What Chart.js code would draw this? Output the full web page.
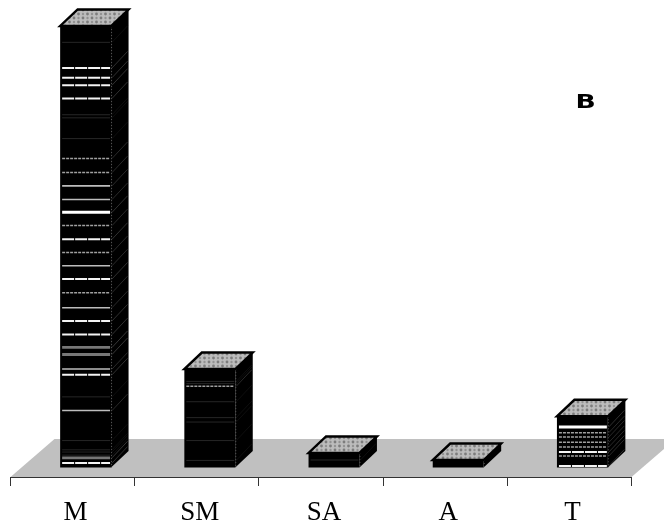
<!DOCTYPE html>
<html>
<head>
<meta charset="utf-8">
<style>html,body{margin:0;padding:0;background:#fff}canvas{display:block}</style>
<script src="https://cdn.jsdelivr.net/npm/chart.js@4"></script>
</head>
<body>
<canvas id="c" width="664" height="529"></canvas>
<script>
const categories = ['M', 'SM', 'SA', 'A', 'T'];
const values = [100, 22.3, 3.3, 1.7, 11.6];

// stripe levels inside each stacked column, by category and by shade
const mThick = [57.8];
const mWhite = [90.5, 88.3, 86.6, 83.6, 51.7, 42.7, 33.2, 30.1, 21.0, 1.0];
const mLight = [63.8, 60.7, 45.7, 36.2, 22.3, 12.9];
const mDotted = [70.0, 66.8, 54.8, 48.7, 39.6];
const mGray = [27.2, 25.6, 2.2];
const mFaint = [96.3, 79.9, 79.2, 74.5, 16.0, 6.1, 4.0, 3.5, 2.8];
const smDotted = [18.4];
const smFaint = [19.5, 19.0, 14.9, 11.3, 10.3, 6.1, 1.6];
const saFaint = [1.7];
const tThick = [9.2];
const tWhite = [3.5, 0.35];
const tDotted = [7.9, 6.9, 5.7, 4.65, 2.6];

const stripes = {
  M:  { thick: mThick, white: mWhite, light: mLight, dotted: mDotted, gray: mGray, faint: mFaint },
  SM: { dotted: smDotted, faint: smFaint },
  SA: { faint: saFaint },
  A:  {},
  T:  { thick: tThick, white: tWhite, dotted: tDotted }
};
const stripeStyle = {
  thick:  { color: '#fff',    width: 3,   dash: [], side: '#3c3c3c' },
  white:  { color: '#f4f4f4', width: 2,   dash: [12, 1], side: '#3c3c3c' },
  light:  { color: '#bdbdbd', width: 1.6, dash: [], side: '#333' },
  dotted: { color: '#a0a0a0', width: 1.5, dash: [3, 1], side: '#333' },
  gray:   { color: '#777',    width: 2.8, dash: [], side: '#444' },
  faint:  { color: '#262626', width: 1,   dash: [], side: '#111' }
};

const BAR_SHIFT = 13, DX = 17.5, DY = -16.5, FLOOR_DX = 44, FLOOR_DY = -38;

function stipple(ctx) {
  const p = document.createElement('canvas');
  p.width = 9; p.height = 8;
  const g = p.getContext('2d');
  g.fillStyle = '#bcbcbc';
  g.fillRect(0, 0, 9, 8);
  g.fillStyle = '#7c7c7c';
  [[0, 0], [4.5, 4]].forEach(([x, y]) => {
    g.beginPath(); g.arc(x + 2, y + 2, 1.4, 0, Math.PI * 2); g.fill();
  });
  g.fillStyle = '#929292';
  [[4.5, 0], [0, 4]].forEach(([x, y]) => {
    g.beginPath(); g.arc(x + 2, y + 2, 1.2, 0, Math.PI * 2); g.fill();
  });
  return ctx.createPattern(p, 'repeat');
}

function poly(ctx, pts) {
  ctx.beginPath();
  pts.forEach((q, i) => i ? ctx.lineTo(q[0], q[1]) : ctx.moveTo(q[0], q[1]));
  ctx.closePath();
}

const box3d = {
  id: 'box3d',
  beforeDraw(chart) {
    const { ctx, chartArea: a } = chart;
    ctx.save();
    ctx.fillStyle = '#c0c0c0';
    poly(ctx, [[a.left, a.bottom], [a.right, a.bottom],
               [a.right + FLOOR_DX, a.bottom + FLOOR_DY], [a.left + FLOOR_DX, a.bottom + FLOOR_DY]]);
    ctx.fill();
    ctx.restore();
  },
  beforeDatasetsDraw(chart) {
    chart.ctx.save();
    chart.ctx.translate(BAR_SHIFT, 0);
  },
  afterDatasetsDraw(chart) {
    const { ctx, scales } = chart;
    ctx.restore();
    const pattern = stipple(ctx);
    chart.getDatasetMeta(0).data.forEach((bar, i) => {
      const x1 = bar.x - bar.width / 2 + BAR_SHIFT;
      const x2 = bar.x + bar.width / 2 + BAR_SHIFT;
      const top = bar.y, base = bar.base;
      ctx.save();
      // side face
      ctx.fillStyle = '#000';
      poly(ctx, [[x2, top], [x2 + DX, top + DY], [x2 + DX, base + DY], [x2, base]]);
      ctx.fill();
      // front-right edge
      ctx.strokeStyle = '#555';
      ctx.lineWidth = 1;
      ctx.setLineDash([1, 2]);
      ctx.beginPath(); ctx.moveTo(x2 + 0.5, top); ctx.lineTo(x2 + 0.5, base); ctx.stroke();
      ctx.setLineDash([]);
      // stripes
      const set = stripes[categories[i]];
      Object.keys(set).forEach(kind => {
        const st = stripeStyle[kind];
        set[kind].forEach(v => {
          const y = scales.y.getPixelForValue(v);
          ctx.strokeStyle = st.color;
          ctx.lineWidth = st.width;
          ctx.setLineDash(st.dash);
          ctx.beginPath(); ctx.moveTo(x1 + 2, y); ctx.lineTo(x2 - 1, y); ctx.stroke();
          ctx.setLineDash([]);
          ctx.strokeStyle = st.side;
          ctx.lineWidth = 0.8;
          ctx.beginPath(); ctx.moveTo(x2 + 1, y); ctx.lineTo(x2 + DX - 1, y + DY); ctx.stroke();
        });
      });
      // top face
      poly(ctx, [[x1, top], [x2, top], [x2 + DX, top + DY], [x1 + DX, top + DY]]);
      ctx.fillStyle = pattern;
      ctx.fill();
      ctx.strokeStyle = '#000';
      ctx.lineWidth = 2.4;
      ctx.lineJoin = 'miter';
      ctx.stroke();
      ctx.restore();
    });
    // panel letter
    ctx.save();
    ctx.fillStyle = '#000';
    ctx.font = 'bold 19px "DejaVu Sans"';
    ctx.textAlign = 'left';
    ctx.textBaseline = 'alphabetic';
    ctx.translate(577, 108);
    ctx.scale(1.4, 1);
    ctx.fillText('B', -1, 0);
    ctx.restore();
  }
};

new Chart(document.getElementById('c'), {
  type: 'bar',
  data: {
    labels: categories,
    datasets: [{
      data: values,
      backgroundColor: '#000',
      borderWidth: 0,
      categoryPercentage: 1,
      barPercentage: 0.41,
      clip: false
    }]
  },
  options: {
    responsive: false,
    animation: false,
    layout: { padding: { top: 26, left: 10.5, right: 32.5, bottom: 0 } },
    plugins: { legend: { display: false }, tooltip: { enabled: false }, title: { display: false } },
    scales: {
      y: { display: false, min: -2.15, max: 100 },
      x: {
        afterFit(scale) { scale.height = 52; },
        grid: { drawOnChartArea: false, drawTicks: true, tickLength: 9, color: '#333', offset: true },
        border: { display: true, color: '#333', width: 1 },
        ticks: {
          color: '#000',
          font: { family: '"Liberation Serif"', size: 27 },
          padding: 11,
          labelOffset: 3,
          maxRotation: 0,
          autoSkip: false
        }
      }
    }
  },
  plugins: [box3d]
});
</script>
</body>
</html>
